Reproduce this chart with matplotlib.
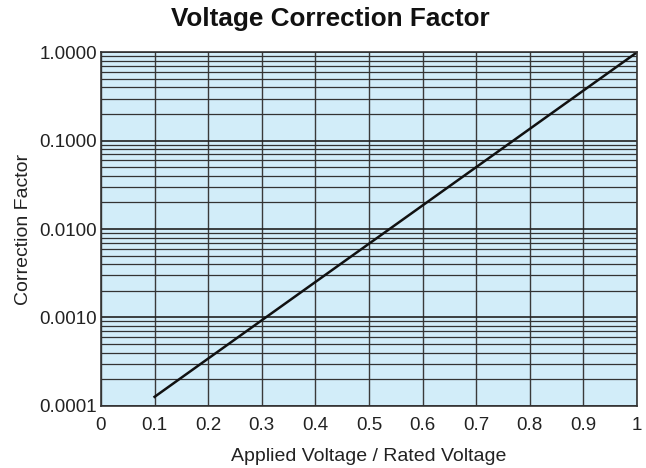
import numpy as np
import matplotlib.pyplot as plt
from matplotlib.ticker import FixedLocator, LogLocator, NullFormatter

plt.rcParams['font.family'] = ['Liberation Sans', 'DejaVu Sans']

# 读取的数据点（对数坐标下为直线）
ratio = [0.1, 1.0]
factor = [0.000126, 1.0]

x_ticks = [0, 0.1, 0.2, 0.3, 0.4, 0.5, 0.6, 0.7, 0.8, 0.9, 1]
x_labels = ['0', '0.1', '0.2', '0.3', '0.4', '0.5', '0.6', '0.7', '0.8', '0.9', '1']
y_ticks = [0.0001, 0.001, 0.01, 0.1, 1.0]
y_labels = ['0.0001', '0.0010', '0.0100', '0.1000', '1.0000']

fig = plt.figure(figsize=(6.46, 4.68), dpi=100)
ax = fig.add_axes([0.1563, 0.1331, 0.8297, 0.7551])
ax.set_facecolor('#d2edf9')

ax.set_yscale('log')
ax.set_xlim(0, 1)
ax.set_ylim(0.0001, 1.0)

ax.xaxis.set_major_locator(FixedLocator(x_ticks))
ax.set_xticklabels(x_labels)
ax.yaxis.set_major_locator(FixedLocator(y_ticks))
ax.set_yticklabels(y_labels)
ax.yaxis.set_minor_locator(LogLocator(base=10, subs=np.arange(2, 10)))
ax.yaxis.set_minor_formatter(NullFormatter())

ax.grid(True, which='major', axis='x', color='#3a3a3a', linewidth=1.0)
ax.grid(True, which='major', axis='y', color='#222222', linewidth=1.2)
ax.grid(True, which='minor', axis='y', color='#333333', linewidth=0.9)
ax.tick_params(which='both', length=0, labelsize=13.5, colors='#222222')
ax.tick_params(axis='x', pad=8)
ax.tick_params(axis='y', pad=3)
for s in ax.spines.values():
    s.set_color('#333333')
    s.set_linewidth(1.2)

ax.plot(ratio, factor, color='#111111', linewidth=1.8)

fig.text(0.512, 0.96, 'Voltage Correction Factor', fontsize=18.8, fontweight='bold',
         ha='center', va='center', color='#111111')
ax.set_xlabel('Applied Voltage / Rated Voltage', fontsize=14, labelpad=10, color='#222222')
ax.set_ylabel('Correction Factor', fontsize=14, labelpad=5, color='#222222')

fig.savefig('out.png', dpi=100)
